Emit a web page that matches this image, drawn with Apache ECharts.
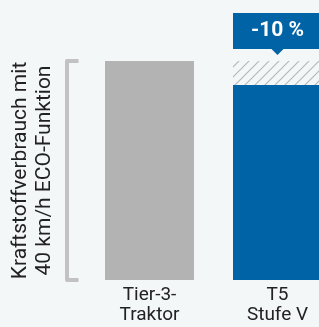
<!DOCTYPE html>
<html>
<head>
<meta charset="utf-8">
<script src="https://cdn.jsdelivr.net/npm/echarts@6/dist/echarts.min.js"></script>
<style>
  html, body { margin: 0; padding: 0; background: #f4f7f8; }
  #main { width: 319px; height: 327px; }
</style>
</head>
<body>
<div id="main"></div>
<script>
const categories = ['Tier-3-\nTraktor', 'T5\nStufe V'];
const consumption = [100, 89];
const saving = [0, 11];
const savingLabel = '-10 %';
const axisName = 'Kraftstoffverbrauch mit\n40 km/h ECO-Funktion';

// diagonal hatch for the saved part
function hatch() {
    const c = document.createElement('canvas');
    c.width = 10;
    c.height = 10;
    const ctx = c.getContext('2d');
    ctx.fillStyle = '#f4f7f8';
    ctx.fillRect(0, 0, 10, 10);
    ctx.strokeStyle = '#b8b8b8';
    ctx.lineWidth = 1.2;
    ctx.beginPath();
    ctx.moveTo(-1, 11); ctx.lineTo(11, -1);
    ctx.moveTo(-1, 1); ctx.lineTo(1, -1);
    ctx.moveTo(9, 11); ctx.lineTo(11, 9);
    ctx.stroke();
    return c;
}

const chart = echarts.init(document.getElementById('main'), null, { renderer: 'canvas' });
const font = 'Roboto, "DejaVu Sans", sans-serif';

chart.setOption({
    backgroundColor: '#f4f7f8',
    animation: false,
    grid: { left: 85.5, right: -22.5, top: 61, bottom: 47, outerBoundsMode: 'none' },
    xAxis: {
        type: 'category',
        data: categories,
        axisLine: { show: false },
        axisTick: { show: false },
        axisLabel: { color: '#222', fontFamily: font, fontSize: 19, lineHeight: 20, margin: 5 }
    },
    yAxis: {
        type: 'value',
        min: 0,
        max: 100,
        interval: 100,
        offset: 19,
        name: axisName,
        nameLocation: 'middle',
        nameRotate: 90,
        nameGap: 10,
        nameTextStyle: { color: '#222', fontFamily: font, fontSize: 21, lineHeight: 24 },
        axisLine: { show: true, lineStyle: { color: '#c2c2c2', width: 4 } },
        axisTick: { show: true, inside: true, length: 12, lineStyle: { color: '#c2c2c2', width: 4 } },
        axisLabel: { show: false },
        splitLine: { show: false }
    },
    series: [
        {
            type: 'bar',
            stack: 'a',
            barWidth: 89,
            data: consumption.map((v, i) => ({
                value: v,
                itemStyle: { color: i === 0 ? '#b3b3b3' : '#0063a6' }
            }))
        },
        {
            type: 'bar',
            stack: 'a',
            barWidth: 89,
            itemStyle: { color: { image: hatch(), repeat: 'repeat' } },
            data: saving.map((v, i) => ({
                value: v,
                label: {
                    show: i === 1,
                    position: 'top',
                    distance: 12,
                    formatter: savingLabel,
                    color: '#fff',
                    fontFamily: font,
                    fontWeight: 'bold',
                    fontSize: 21,
                    lineHeight: 20,
                    width: 89,
                    align: 'center',
                    padding: [8, 0],
                    backgroundColor: '#0063a6'
                }
            })),
            markPoint: {
                symbol: 'triangle',
                symbolSize: [12, 6],
                symbolRotate: 180,
                symbolOffset: [0, -9],
                itemStyle: { color: '#0063a6' },
                label: { show: false },
                data: [{ coord: [1, 100] }]
            }
        }
    ]
});
</script>
</body>
</html>
